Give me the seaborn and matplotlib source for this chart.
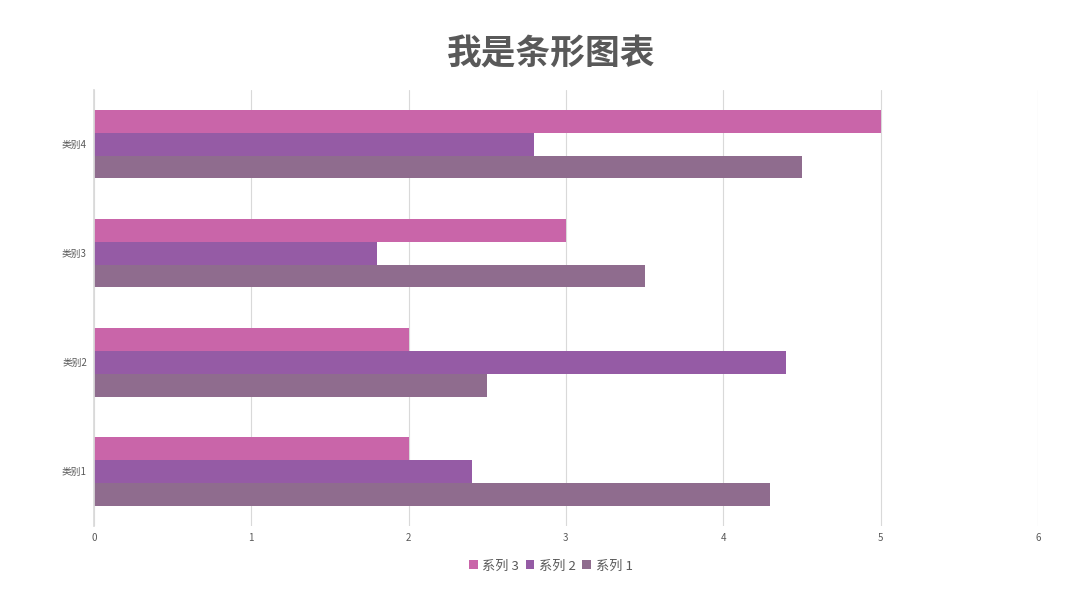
import pandas as pd
import matplotlib.pyplot as plt
import seaborn as sns

categories = ['类别1', '类别2', '类别3', '类别4']
series_1 = [4.3, 2.5, 3.5, 4.5]
series_2 = [2.4, 4.4, 1.8, 2.8]
series_3 = [2.0, 2.0, 3.0, 5.0]
series_names = ['系列 3', '系列 2', '系列 1']
colors = ['#C965A9', '#955BA5', '#8F6C8E']


def build_frame():
    rows = []
    for name, vals in zip(['系列 1', '系列 2', '系列 3'], [series_1, series_2, series_3]):
        for cat, v in zip(categories, vals):
            rows.append({'category': cat, 'series': name, 'value': v})
    return pd.DataFrame(rows)


def main():
    sns.set_theme(style='white')
    plt.rcParams['font.family'] = ['Noto Sans CJK SC', 'DejaVu Sans']

    df = build_frame()
    fig = plt.figure(figsize=(10.8, 6.05), dpi=100)
    ax = fig.add_axes([0.087, 0.131, 0.874, 0.721])

    sns.barplot(data=df, y='category', x='value', hue='series',
                order=categories[::-1], hue_order=series_names,
                palette=colors, orient='h', width=0.63, saturation=1,
                linewidth=0, ax=ax)

    ax.set_xlim(0, 6)
    ax.set_ylim(3.5, -0.5)
    ax.set_xticks(range(7))
    ax.grid(axis='x', color='#d9d9d9', linewidth=0.8)
    ax.set_axisbelow(True)
    for side in ['top', 'right', 'bottom']:
        ax.spines[side].set_visible(False)
    ax.spines['left'].set_color('#d9d9d9')
    ax.tick_params(axis='x', length=0, labelsize=7, colors='#595959', pad=5)
    ax.tick_params(axis='y', length=0, labelsize=7, colors='#595959', pad=5)
    ax.set_xlabel('')
    ax.set_ylabel('')

    ax.legend(loc='upper center', bbox_to_anchor=(0.484, -0.05), ncol=3, frameon=False,
              fontsize=9.5, handlelength=0.65, handleheight=0.65, handletextpad=0.35,
              columnspacing=0.5, labelcolor='#595959')

    fig.text(0.51, 0.91, '我是条形图表', ha='center', va='center',
             fontsize=25, fontweight='bold', color='#595959')

    fig.savefig('out.png', dpi=100)
    plt.close(fig)


if __name__ == '__main__':
    main()
